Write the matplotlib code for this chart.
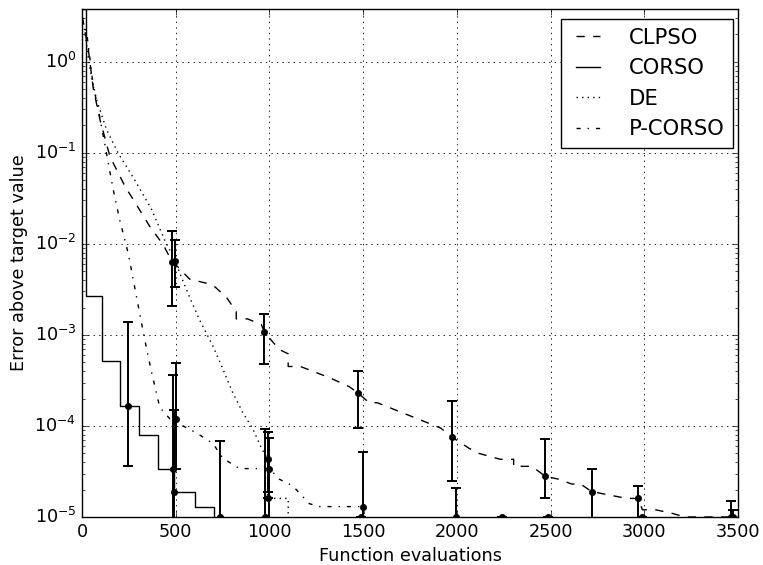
import numpy as np
import matplotlib
matplotlib.use("Agg")
import matplotlib.pyplot as plt

# convergence curves (function evaluations vs. error above target)
clpso_x = [0, 34, 60, 96, 149, 229, 300, 362, 433, 482, 511, 574, 663, 707, 770, 823, 823, 883, 957,
           973, 1053, 1100, 1100, 1165, 1319, 1426, 1473, 1532, 1575, 1913, 1972, 2064, 2117, 2232,
           2303, 2303, 2400, 2472, 2543, 2613, 2660, 2720, 2809, 2906, 2968, 2990, 3060, 3146, 3217, 3500]
clpso_y = [3.2, 1.35, 0.51, 0.23, 0.091, 0.043, 0.025, 0.0155, 9.8e-3, 6.3e-3, 5.6e-3, 4.1e-3, 3.7e-3,
           3.4e-3, 2.6e-3, 1.8e-3, 1.5e-3, 1.5e-3, 1.3e-3, 1.07e-3, 6.9e-4, 6.2e-4, 4.5e-4, 4.5e-4,
           3.4e-4, 2.7e-4, 2.3e-4, 1.8e-4, 1.8e-4, 9.5e-5, 7.6e-5, 5.7e-5, 5.0e-5, 4.3e-5, 4.3e-5,
           3.6e-5, 3.6e-5, 2.8e-5, 2.6e-5, 2.3e-5, 2.3e-5, 1.9e-5, 1.75e-5, 1.6e-5, 1.6e-5, 1.2e-5,
           1.2e-5, 1.1e-5, 1.0e-5, 1.0e-5]

corso_x = [0, 20, 105, 202, 303, 403, 490, 605, 702, 3500]
corso_y = [3.8, 2.7e-3, 5.2e-4, 1.67e-4, 7.9e-5, 3.4e-5, 1.87e-5, 1.3e-5, 1e-6, 1e-6]

de_x = [0, 43, 78, 131, 193, 282, 371, 441, 498, 521, 574, 628, 699, 752, 805, 858, 911, 956, 990,
        990, 1100, 1100]
de_y = [3.5, 0.82, 0.38, 0.18, 0.099, 0.05, 0.024, 0.011, 6.5e-3, 4.8e-3, 2.6e-3, 1.45e-3, 7.5e-4,
        4.2e-4, 2.3e-4, 1.4e-4, 9.3e-5, 5.8e-5, 4.3e-5, 1.6e-5, 1.6e-5, 1e-6]

pcorso_x = [0, 25, 60, 87, 167, 202, 238, 255, 291, 335, 371, 415, 468, 500, 539, 610, 699, 752, 840,
            980, 1000, 1053, 1124, 1213, 1266, 1500, 1580]
pcorso_y = [3.0, 2.1, 0.54, 0.30, 0.039, 0.018, 9.3e-3, 6.4e-3, 2.6e-3, 8.8e-4, 3.9e-4, 1.6e-4, 1.2e-4,
            1.2e-4, 1.0e-4, 8.4e-5, 6.4e-5, 4.4e-5, 3.4e-5, 3.4e-5, 3.4e-5, 2.6e-5, 2.2e-5, 1.4e-5,
            1.3e-5, 1.3e-5, 1e-6]

# error bars: position, mean, lower and upper bound
err_x = [482, 973, 1475, 1972, 2472, 2720, 2968, 3465,
         498, 990, 990,
         243, 486, 490, 738, 975, 1490, 2240, 2489, 2989, 3472,
         500, 1000, 1497, 1993]
err_y = [6.3e-3, 1.07e-3, 2.3e-4, 7.6e-5, 2.8e-5, 1.9e-5, 1.6e-5, 1.0e-5,
         6.5e-3, 4.3e-5, 1.6e-5,
         1.67e-4, 3.4e-5, 1.87e-5, 1.0e-5, 1.0e-5, 1.0e-5, 1.0e-5, 1.0e-5, 1.0e-5, 1.0e-5,
         1.2e-4, 3.4e-5, 1.3e-5, 1.0e-5]
err_lo = [2.1e-3, 4.8e-4, 9.6e-5, 2.5e-5, 1.6e-5, 1e-7, 1e-7, 1e-7,
          3.4e-3, 1.9e-5, 1.6e-5,
          3.6e-5, 1e-7, 1e-7, 1e-7, 1e-7, 1.0e-5, 1.0e-5, 1.0e-5, 1.0e-5, 1e-7,
          3.4e-5, 1e-7, 1e-7, 1e-7]
err_hi = [1.4e-2, 1.7e-3, 4.0e-4, 1.9e-4, 7.1e-5, 3.4e-5, 2.2e-5, 1.5e-5,
          1.1e-2, 8.6e-5, 1.6e-5,
          1.4e-3, 3.6e-4, 1.5e-4, 6.8e-5, 9.3e-5, 1.0e-5, 1.0e-5, 1.0e-5, 1.0e-5, 1.2e-5,
          4.9e-4, 7.3e-5, 5.2e-5, 2.1e-5]

plt.style.use("classic")
fig = plt.figure(figsize=(7.63, 5.65), dpi=100, facecolor="white")
ax = fig.add_axes([0.1075, 0.085, 0.8597, 0.899])

ax.plot(clpso_x, clpso_y, "k--", lw=1.0, label="CLPSO")
ax.plot(corso_x, corso_y, "k-", lw=1.0, drawstyle="steps-post", label="CORSO")
ax.plot(de_x, de_y, "k:", lw=1.0, label="DE")
ax.plot(pcorso_x, pcorso_y, "k-.", lw=1.0, label="P-CORSO")

ey = np.array(err_y)
yerr = [ey - np.array(err_lo), np.array(err_hi) - ey]
ax.errorbar(err_x, ey, yerr=yerr, fmt="o", color="k", mec="k", ms=4.5,
            elinewidth=1.4, capsize=3.5, capthick=1.4)

ax.set_yscale("log")
ax.set_xlim(0, 3500)
ax.set_ylim(1e-5, 3.8)
ax.set_xticks(np.arange(0, 3501, 500))
ax.grid(True, which="major", color="k", linestyle=":", lw=0.6)
ax.tick_params(labelsize=12.7)
ax.set_xlabel("Function evaluations", fontsize=12.7)
ax.set_ylabel("Error above target value", fontsize=12.7)

ax.legend(loc="upper right", bbox_to_anchor=(0.992, 0.980), borderaxespad=0,
          fontsize=15.2, handlelength=1.75, handletextpad=1.05, labelspacing=0.5,
          fancybox=False, frameon=True)

fig.savefig("out.png", dpi=100, facecolor="white")
